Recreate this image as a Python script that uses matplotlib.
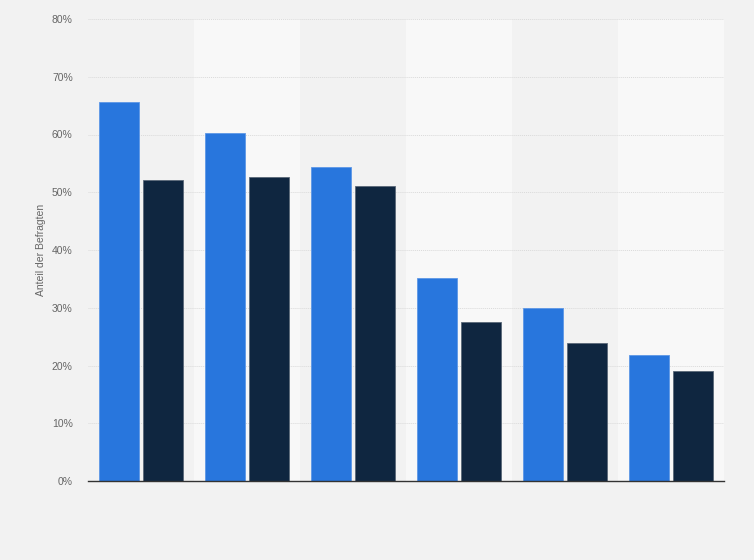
import matplotlib
matplotlib.use("Agg")
import matplotlib.pyplot as plt
import numpy as np

plt.rcParams['font.family'] = ['Liberation Sans', 'DejaVu Sans']

categories = ["1", "2", "3", "4", "5", "6"]
series_a = [65.6, 60.2, 54.3, 35.2, 30.0, 21.8]
series_b = [52.2, 52.6, 51.0, 27.5, 23.9, 19.0]
yticks = [0, 10, 20, 30, 40, 50, 60, 70, 80]
ytick_labels = ["0%", "10%", "20%", "30%", "40%", "50%", "60%", "70%", "80%"]

fig = plt.figure(figsize=(7.54, 5.6), dpi=100)
fig.patch.set_facecolor("#f2f2f2")
ax = fig.add_axes([88/754, 79/560, (724-88)/754, (481-19)/560])
ax.set_facecolor("#f2f2f2")

x = np.arange(len(categories))
for i in x:
    if i % 2 == 1:
        ax.axvspan(i-0.5, i+0.5, color="#f8f8f8", zorder=0, lw=0)

ax.set_ylim(0, 80)
ax.set_xlim(-0.5, len(categories)-0.5)
ax.set_yticks(yticks)
ax.set_yticklabels(ytick_labels)
ax.yaxis.grid(True, color="#dadada", linestyle=(0, (1, 1)), linewidth=0.7, zorder=1)
ax.set_axisbelow(True)

w = 0.377
off = 0.2075
ax.bar(x-off, series_a, w, color="#2876dd", edgecolor="#5d97e6", linewidth=0.6, zorder=3)
ax.bar(x+off, series_b, w, color="#0f2640", edgecolor="#5a6878", linewidth=0.6, zorder=3)

for s in ["top", "right", "left"]:
    ax.spines[s].set_visible(False)
ax.spines["bottom"].set_color("#333333")
ax.spines["bottom"].set_linewidth(1.0)
ax.spines["bottom"].set_zorder(4)
ax.set_xticks([])
ax.tick_params(axis="y", length=0, pad=11, labelsize=7.5, labelcolor="#666666")
ax.set_ylabel("Anteil der Befragten", fontsize=7.5, color="#666666", labelpad=4.5)

fig.savefig("out.png", dpi=100, facecolor=fig.get_facecolor())
